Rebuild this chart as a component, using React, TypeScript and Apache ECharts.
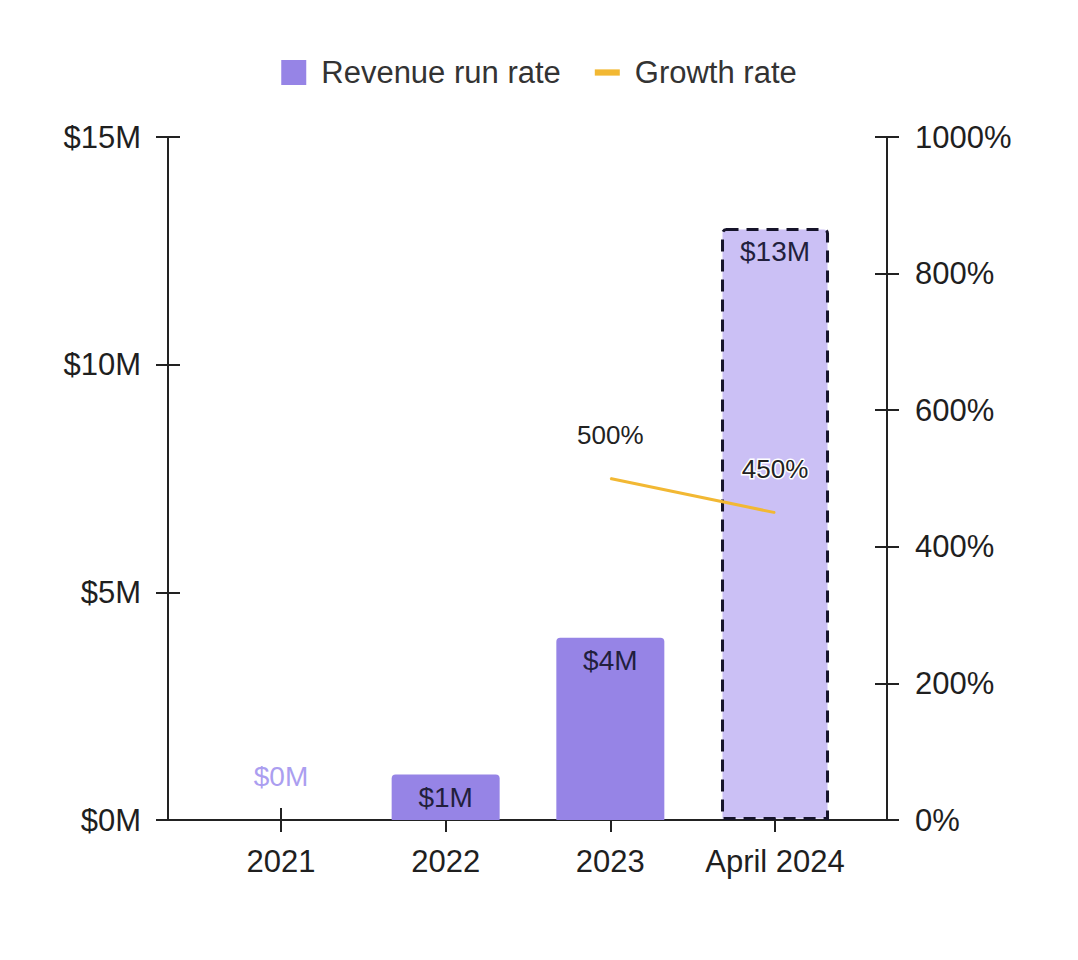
import React, { useEffect, useRef } from "react";
import * as echarts from "echarts";

const categories = ["2021", "2022", "2023", "April 2024"];
const revenue = [0, 1, 4, 13];
const growth: (number | null)[] = [null, null, 500, 450];
const leftTicks = [0, 5, 10, 15];
const rightTicks = [0, 200, 400, 600, 800, 1000];

const FONT = "Liberation Sans, Arial, sans-serif";
const PURPLE = "#9684e6";
const LIGHT = "#cbc0f5";
const ORANGE = "#f2b833";
const TEXT = "#1f1f1f";

export default function App() {
  const ref = useRef<HTMLDivElement>(null);
  useEffect(() => {
    document.body.style.margin = "0";
    if (!ref.current) return;
    const chart = echarts.init(ref.current, null, { renderer: "svg" });
    const idx = categories.map((_, i) => i);
    const xMin = -0.686;
    const xMax = 3.68;

    const barData = revenue.map((v, i) => {
      const item: any = { value: [i, v] };
      if (i === 0) {
        item.label = { position: "top", distance: 30, color: "#ab9ef0" };
      } else if (i === categories.length - 1) {
        item.itemStyle = {
          color: LIGHT,
          borderColor: "#16142a",
          borderWidth: 3,
          borderType: [12, 8],
          borderRadius: [4, 4, 0, 0],
        };
      }
      return item;
    });

    const lineData = growth
      .map((v, i) => (v == null ? null : [i, v]))
      .filter((d) => d != null);

    const xBase = {
      type: "value",
      min: xMin,
      max: xMax,
      splitLine: { show: false },
    };
    const yBase = { type: "value", splitLine: { show: false } };
    const tickStyle = { color: "#222", width: 2 };

    chart.setOption({
      animation: false,
      textStyle: { fontFamily: FONT },
      legend: {
        top: 52,
        left: "center",
        itemWidth: 25,
        itemHeight: 25,
        itemGap: 34,
        textStyle: { fontSize: 31, color: "#333", fontFamily: FONT, padding: [0, 0, 0, 10] },
        data: [
          { name: "Revenue run rate", icon: "rect", itemStyle: { color: PURPLE } },
          { name: "Growth rate", icon: "path://M0,0 H24 V6 H0 Z", itemStyle: { color: ORANGE } },
        ],
      },
      grid: { left: 168, right: 191, top: 137, bottom: 140 },
      xAxis: [
        {
          ...xBase,
          position: "bottom",
          axisLine: { show: true, lineStyle: tickStyle },
          axisTick: { show: true, customValues: idx, length: 12, lineStyle: tickStyle },
          axisLabel: {
            customValues: idx,
            formatter: (v: number) => categories[Math.round(v)] ?? "",
            fontSize: 31,
            color: TEXT,
            margin: 26,
            fontFamily: FONT,
          },
        },
        {
          ...xBase,
          position: "bottom",
          axisLine: { show: false },
          axisTick: { show: true, inside: true, customValues: idx, length: 12, lineStyle: tickStyle },
          axisLabel: { show: false },
        },
      ],
      yAxis: [
        {
          ...yBase,
          position: "left",
          min: 0,
          max: 15,
          interval: 5,
          axisLine: { show: true, onZero: false, lineStyle: tickStyle },
          axisTick: { show: true, length: 12, lineStyle: tickStyle },
          axisLabel: {
            formatter: (v: number) => `$${v}M`,
            fontSize: 31,
            color: TEXT,
            margin: 27,
            fontFamily: FONT,
            customValues: leftTicks,
          },
        },
        {
          ...yBase,
          position: "right",
          min: 0,
          max: 1000,
          interval: 200,
          axisLine: { show: true, onZero: false, lineStyle: tickStyle },
          axisTick: { show: true, length: 12, lineStyle: tickStyle },
          axisLabel: {
            formatter: (v: number) => `${v}%`,
            fontSize: 31,
            color: TEXT,
            margin: 28,
            fontFamily: FONT,
            customValues: rightTicks,
          },
        },
        {
          ...yBase,
          position: "left",
          min: 0,
          max: 15,
          interval: 5,
          axisLine: { show: false, onZero: false },
          axisTick: { show: true, inside: true, length: 12, lineStyle: tickStyle },
          axisLabel: { show: false },
        },
        {
          ...yBase,
          position: "right",
          min: 0,
          max: 1000,
          interval: 200,
          axisLine: { show: false, onZero: false },
          axisTick: { show: true, inside: true, length: 12, lineStyle: tickStyle },
          axisLabel: { show: false },
        },
      ],
      series: [
        {
          name: "Revenue run rate",
          type: "bar",
          xAxisIndex: 0,
          yAxisIndex: 0,
          barWidth: 108,
          itemStyle: { color: PURPLE, borderRadius: [4, 4, 0, 0] },
          label: {
            show: true,
            position: "insideTop",
            distance: 9,
            formatter: (p: any) => `$${p.value[1]}M`,
            fontSize: 28,
            color: "#221f3d",
            fontFamily: FONT,
          },
          data: barData,
          z: 2,
        },
        {
          name: "Growth rate",
          type: "line",
          xAxisIndex: 0,
          yAxisIndex: 1,
          showSymbol: true,
          symbol: "circle",
          symbolSize: 1,
          lineStyle: { color: ORANGE, width: 3 },
          itemStyle: { color: ORANGE },
          label: {
            show: true,
            position: "top",
            distance: 30,
            formatter: (p: any) => `${p.value[1]}%`,
            fontSize: 26,
            color: "#222",
            textBorderColor: "#fff",
            textBorderWidth: 3,
            fontFamily: FONT,
          },
          data: lineData,
          z: 3,
        },
      ],
    });
    return () => chart.dispose();
  }, []);
  return <div ref={ref} style={{ width: 1078, height: 960 }} />;
}
